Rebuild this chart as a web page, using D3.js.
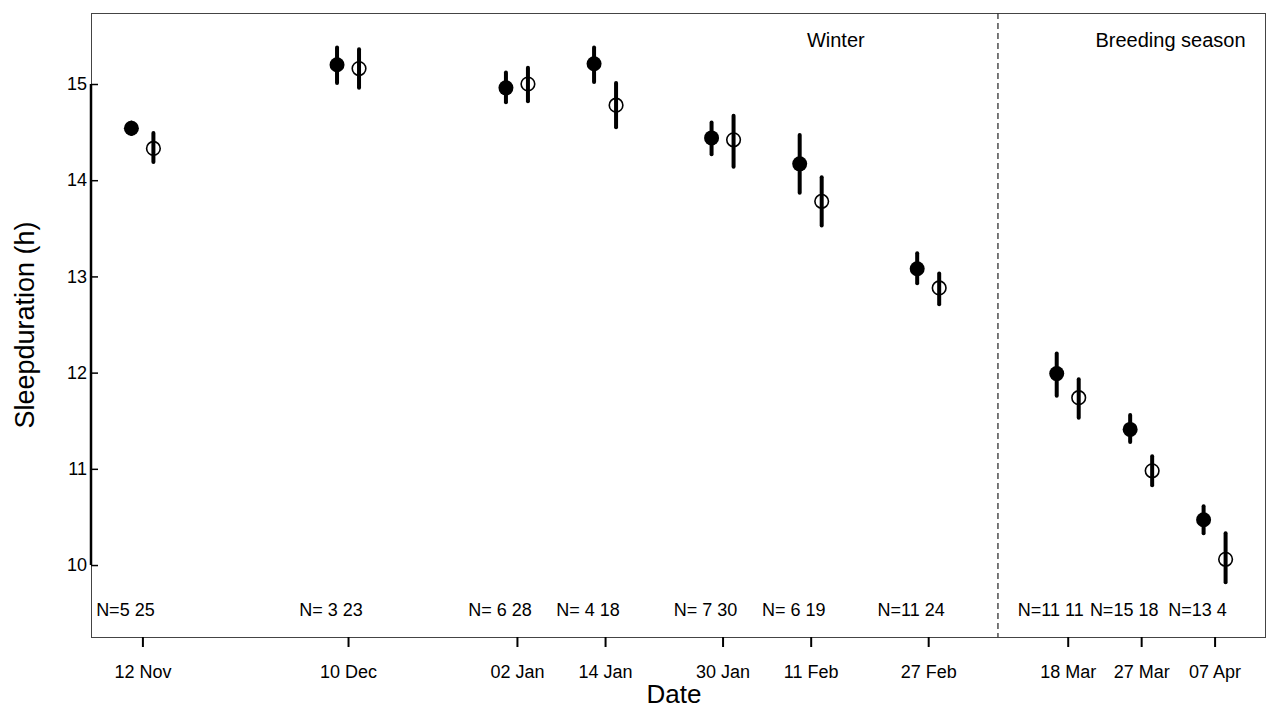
<!DOCTYPE html>
<html>
<head>
<meta charset="utf-8">
<script src="https://cdn.jsdelivr.net/npm/d3@7"></script>
<style>
  body { margin: 0; background: #fff; }
  svg text { font-family: "Liberation Sans", Arial, sans-serif; fill: #000; }
</style>
</head>
<body>
<div id="chart"></div>
<script>
// sampling dates (x position of each pair) and their tick labels
var dates = ["2009-11-12", "2009-12-10", "2010-01-02", "2010-01-14", "2010-01-30",
             "2010-02-11", "2010-02-27", "2010-03-18", "2010-03-28", "2010-04-07"];
var dateLabels = ["12 Nov", "10 Dec", "02 Jan", "14 Jan", "30 Jan",
                  "11 Feb", "27 Feb", "18 Mar", "27 Mar", "07 Apr"];

// filled symbols
var filledMean = [14.54, 15.20, 14.96, 15.21, 14.44, 14.17, 13.08, 11.99, 11.41, 10.47];
var filledLow  = [14.48, 15.01, 14.81, 15.02, 14.27, 13.87, 12.93, 11.76, 11.28, 10.33];
var filledHigh = [14.60, 15.38, 15.12, 15.38, 14.60, 14.47, 13.24, 12.20, 11.56, 10.61];

// open symbols
var openMean = [14.33, 15.16, 15.00, 14.78, 14.42, 13.78, 12.88, 11.74, 10.98, 10.06];
var openLow  = [14.19, 14.96, 14.82, 14.55, 14.14, 13.53, 12.71, 11.53, 10.83, 9.82];
var openHigh = [14.49, 15.36, 15.17, 15.01, 14.67, 14.03, 13.03, 11.93, 11.13, 10.33];

// sample sizes printed above the x axis
var nLabels = ["N=5 25", "N= 3 23", "N= 6 28", "N= 4 18", "N= 7 30",
               "N= 6 19", "N=11 24", "N=11 11", "N=15 18", "N=13 4"];

var yTicks = [10, 11, 12, 13, 14, 15];
var seasonSplit = "2010-03-08T12:00";
var seasonLabels = [
  { text: "Winter", at: "2010-02-14T10:00" },
  { text: "Breeding season", at: "2010-04-01" }
];

var width = 1269, height = 709;
var margin = { left: 91, right: 3, top: 13, bottom: 72 };
var parse = d3.isoParse;

var x = d3.scaleTime()
  .domain([parse("2009-11-05"), parse("2010-04-14")])
  .range([margin.left, width - margin.right]);
var y = d3.scaleLinear()
  .domain([9.252, 15.738])
  .range([height - margin.bottom, margin.top]);

var svg = d3.select("#chart").append("svg")
  .attr("width", width)
  .attr("height", height);

// plot frame
svg.append("rect")
  .attr("x", margin.left + 0.5)
  .attr("y", margin.top + 0.5)
  .attr("width", width - margin.left - margin.right - 1)
  .attr("height", height - margin.top - margin.bottom)
  .attr("fill", "none")
  .attr("stroke", "#444")
  .attr("stroke-width", 1);

// y axis, ticks pointing inwards
var yAxis = svg.append("g")
  .attr("transform", "translate(" + margin.left + ",0)")
  .call(d3.axisLeft(y).tickValues(yTicks).tickSize(-7).tickPadding(4).tickFormat(d3.format("d")));
yAxis.select(".domain").remove();
yAxis.selectAll(".tick line").attr("stroke", "#000").attr("stroke-width", 1.5);
yAxis.selectAll(".tick text").style("font-size", "18px");
yAxis.append("line")
  .attr("x1", 0).attr("x2", 0)
  .attr("y1", y(10)).attr("y2", y(15))
  .attr("stroke", "#000").attr("stroke-width", 2.5);

// x axis
var xAxis = svg.append("g")
  .attr("transform", "translate(0," + (height - margin.bottom) + ")")
  .call(d3.axisBottom(x)
    .tickValues(dates.map(function(d) { return parse(d); }))
    .tickSize(10).tickPadding(18)
    .tickFormat(function(d, i) { return dateLabels[i]; }));
xAxis.select(".domain").remove();
xAxis.selectAll(".tick line").attr("stroke", "#000").attr("stroke-width", 2);
xAxis.selectAll(".tick text").style("font-size", "18px");

// winter / breeding season divider
svg.append("line")
  .attr("x1", x(parse(seasonSplit))).attr("x2", x(parse(seasonSplit)))
  .attr("y1", margin.top).attr("y2", height - margin.bottom)
  .attr("stroke", "#333")
  .attr("stroke-width", 1.3)
  .attr("stroke-dasharray", "6,4");

svg.selectAll(".season")
  .data(seasonLabels)
  .enter()
  .append("text")
  .attr("class", "season")
  .attr("x", function(d) { return x(parse(d.at)); })
  .attr("y", 47)
  .attr("text-anchor", "middle")
  .style("font-size", "20px")
  .text(function(d) { return d.text; });

// error bars + symbols
var dodge = 11;
var rows = dates.map(function(d, i) {
  return { date: parse(d), fm: filledMean[i], fl: filledLow[i], fh: filledHigh[i],
           om: openMean[i], ol: openLow[i], oh: openHigh[i], n: nLabels[i] };
});

var pts = svg.append("g").attr("class", "g-points");

pts.selectAll(".bar-filled")
  .data(rows).enter().append("line")
  .attr("class", "bar-filled")
  .attr("x1", function(d) { return x(d.date) - dodge; })
  .attr("x2", function(d) { return x(d.date) - dodge; })
  .attr("y1", function(d) { return y(d.fl); })
  .attr("y2", function(d) { return y(d.fh); })
  .attr("stroke", "#000").attr("stroke-width", 4).attr("stroke-linecap", "round");

pts.selectAll(".dot-filled")
  .data(rows).enter().append("circle")
  .attr("class", "dot-filled")
  .attr("cx", function(d) { return x(d.date) - dodge; })
  .attr("cy", function(d) { return y(d.fm); })
  .attr("r", 7.5)
  .attr("fill", "#000");

pts.selectAll(".bar-open")
  .data(rows).enter().append("line")
  .attr("class", "bar-open")
  .attr("x1", function(d) { return x(d.date) + dodge; })
  .attr("x2", function(d) { return x(d.date) + dodge; })
  .attr("y1", function(d) { return y(d.ol); })
  .attr("y2", function(d) { return y(d.oh); })
  .attr("stroke", "#000").attr("stroke-width", 4).attr("stroke-linecap", "round");

pts.selectAll(".dot-open")
  .data(rows).enter().append("circle")
  .attr("class", "dot-open")
  .attr("cx", function(d) { return x(d.date) + dodge; })
  .attr("cy", function(d) { return y(d.om); })
  .attr("r", 6.8)
  .attr("fill", "none")
  .attr("stroke", "#000")
  .attr("stroke-width", 1.6);

// N labels
svg.selectAll(".n-label")
  .data(rows).enter().append("text")
  .attr("class", "n-label")
  .attr("x", function(d) { return x(d.date) - 17; })
  .attr("y", 616)
  .attr("text-anchor", "middle")
  .style("font-size", "18px")
  .text(function(d) { return d.n; });

// axis titles
svg.append("text")
  .attr("x", 674).attr("y", 703)
  .attr("text-anchor", "middle")
  .style("font-size", "26px")
  .text("Date");

svg.append("text")
  .attr("transform", "translate(34," + ((margin.top + height - margin.bottom) / 2) + ") rotate(-90)")
  .attr("text-anchor", "middle")
  .style("font-size", "27px")
  .text("Sleepduration (h)");
</script>
</body>
</html>
